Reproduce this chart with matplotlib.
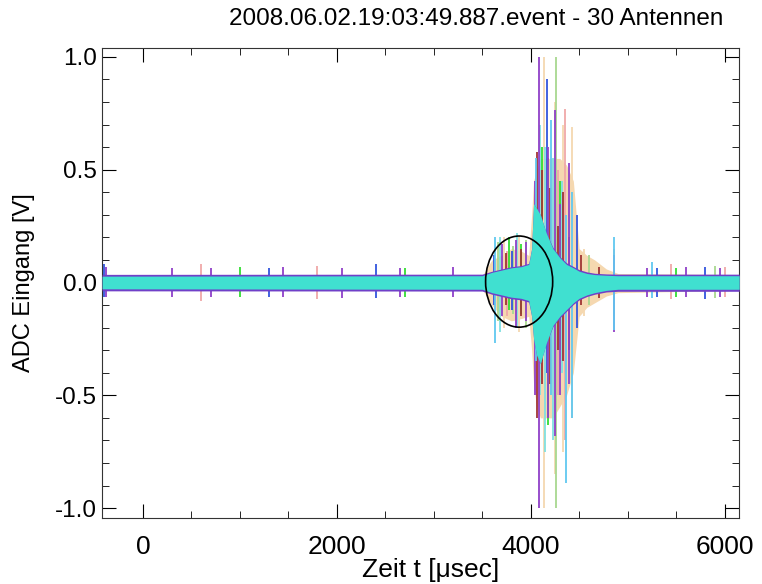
import numpy as np
import matplotlib.pyplot as plt
from matplotlib.patches import Ellipse
from matplotlib.ticker import MultipleLocator

plt.rcParams['font.family'] = ['Liberation Sans', 'DejaVu Sans']

title = "2008.06.02.19:03:49.887.event - 30 Antennen"
xlab = "Zeit t [\u03bcsec]"
ylab = "ADC Eingang [V]"

# envelope of all antenna traces
t_env = [-420, 3500, 3600, 3700, 3800, 3900, 3980, 4010, 4030, 4060, 4100, 4160,
         4230, 4300, 4370, 4440, 4500, 4580, 4660, 4780, 4900, 6150]
cyan_hi = [0.028, 0.03, 0.045, 0.055, 0.065, 0.07, 0.08, 0.15, 0.35, 0.33, 0.3, 0.22,
           0.15, 0.11, 0.08, 0.065, 0.05, 0.04, 0.035, 0.032, 0.03, 0.03]
cyan_lo = [-0.028, -0.03, -0.045, -0.055, -0.065, -0.07, -0.08, -0.15, -0.25, -0.32, -0.36, -0.27,
           -0.19, -0.15, -0.12, -0.09, -0.07, -0.055, -0.045, -0.035, -0.03, -0.03]
purple_hi = [0.036, 0.037, 0.05, 0.06, 0.07, 0.075, 0.085, 0.15, 0.35, 0.33, 0.3, 0.22,
             0.155, 0.115, 0.087, 0.071, 0.057, 0.047, 0.041, 0.038, 0.037, 0.037]
purple_lo = [-0.037, -0.038, -0.052, -0.062, -0.072, -0.077, -0.087, -0.15, -0.25, -0.32, -0.36, -0.27,
             -0.195, -0.157, -0.127, -0.097, -0.077, -0.062, -0.052, -0.042, -0.039, -0.039]
wheat_hi = [0.03, 0.03, 0.1, 0.12, 0.15, 0.14, 0.12, 0.3, 0.45, 0.5, 0.55, 0.55,
            0.55, 0.55, 0.52, 0.45, 0.15, 0.12, 0.1, 0.06, 0.04, 0.035]
wheat_lo = [-0.03, -0.03, -0.1, -0.15, -0.17, -0.16, -0.15, -0.3, -0.45, -0.55, -0.6, -0.6,
            -0.6, -0.55, -0.5, -0.4, -0.15, -0.11, -0.09, -0.06, -0.045, -0.035]

# single spikes per antenna colour: time, lower, upper
spikes = {
    "#f5d8b0": ([3720, 3880, 4134, 4424, 4550, 4250, 4330],
                [-0.2, -0.22, -1.0, -0.6, -0.15, -0.85, -0.75],
                [0.2, 0.2, 1.0, 0.69, 0.15, 0.8, 0.7]),
    "#a8d890": ([3660, 3820, 4258, 4600, 5900, 3950],
                [-0.17, -0.14, -1.0, -0.1, -0.07, -0.2],
                [0.18, 0.16, 1.0, 0.12, 0.075, 0.19]),
    "#f0a8a8": ([600, 1800, 4351, 4860, 5450, 6000, 4280, 3760],
                [-0.08, -0.075, -0.7, -0.15, -0.075, -0.065, -0.5, -0.15],
                [0.08, 0.075, 0.77, 0.15, 0.08, 0.07, 0.5, 0.14]),
    "#80e0e0": ([4100, 4150, 4230, 4320, 3680, 3860],
                [-0.5, -0.75, -0.7, -0.4, -0.22, -0.2],
                [0.7, 0.6, 0.55, 0.45, 0.2, 0.22]),
    "#33dd33": ([1000, 2700, 3780, 3900, 4175, 4300, 5500, 4120],
                [-0.065, -0.065, -0.12, -0.14, -0.63, -0.3, -0.065, -0.35],
                [0.07, 0.065, 0.2, 0.17, 0.55, 0.45, 0.065, 0.6]),
    "#a03535": ([3750, 3900, 4115, 4330, 4520, 4700, 4070, 4200, 4280, 4400],
                [-0.1, -0.15, -0.45, -0.35, -0.1, -0.07, -0.6, -0.45, -0.3, -0.3],
                [0.13, 0.15, 0.5, 0.4, 0.12, 0.07, 0.58, 0.42, 0.25, 0.2]),
    "#3355dd": ([-400, 1300, 2400, 3620, 4165, 4480, 5300, 5800, 3810],
                [-0.065, -0.065, -0.07, -0.1, -0.4, -0.2, -0.065, -0.075, -0.12],
                [0.08, 0.065, 0.08, 0.12, 0.9, 0.3, 0.065, 0.07, 0.14]),
    "#9040c8": ([-380, 300, 700, 1450, 2050, 2650, 3200, 3700, 3850, 3950, 4090, 4250, 4400,
                 4860, 5200, 5600, 5950, 4040, 4180, 4300],
                [-0.065, -0.065, -0.065, -0.065, -0.07, -0.065, -0.065, -0.15, -0.2, -0.17, -1.0, -0.68, -0.45,
                 -0.22, -0.065, -0.065, -0.065, -0.5, -0.6, -0.5],
                [0.07, 0.065, 0.065, 0.07, 0.065, 0.065, 0.07, 0.17, 0.19, 0.18, 1.0, 0.765, 0.53,
                 0.12, 0.065, 0.07, 0.065, 0.45, 0.6, 0.35]),
    "#60c8f0": ([3630, 4060, 4207, 4362, 4424, 4860, 5250],
                [-0.27, -0.35, -0.5, -0.89, -0.6, -0.21, -0.07],
                [0.2, 0.55, 0.72, 0.3, 0.4, 0.2, 0.09]),
}

fig = plt.figure(figsize=(7.62, 5.84), dpi=100)
ax = fig.add_axes([0.134, 0.113, 0.836, 0.805])

ax.fill_between(t_env, wheat_lo, wheat_hi, color="#f5d8b0", lw=0, zorder=1)
for col, (t, lo, hi) in spikes.items():
    ax.vlines(t, lo, hi, color=col, lw=1.3, zorder=2)
ax.fill_between(t_env, purple_lo, purple_hi, color="#7040c8", lw=0, zorder=3)
ax.fill_between(t_env, cyan_lo, cyan_hi, color="#40e0d0", lw=0, zorder=4)

ax.add_patch(Ellipse((3881, 0.004), 692, 0.404, fill=False, ec="black", lw=1.2, zorder=5))

ax.set_xlim(-420, 6150)
ax.set_ylim(-1.044, 1.04)
ax.xaxis.set_major_locator(MultipleLocator(2000))
ax.xaxis.set_minor_locator(MultipleLocator(500))
ax.yaxis.set_major_locator(MultipleLocator(0.5))
ax.yaxis.set_minor_locator(MultipleLocator(0.1))
ax.yaxis.set_major_formatter(lambda v, p: "%.1f" % v)
ax.tick_params(which="both", direction="in", top=True, right=True)
ax.tick_params(axis="x", labelsize=19, pad=12)
ax.tick_params(axis="y", labelsize=17.5, pad=4)
ax.tick_params(which="major", length=10)
ax.tick_params(which="minor", length=5)
for s in ax.spines.values():
    s.set_color("#333333")

ax.set_xlabel(xlab, fontsize=19)
ax.xaxis.set_label_coords(0.515, -0.085)
ax.set_ylabel(ylab, fontsize=17)
ax.yaxis.set_label_coords(-0.105, 0.5)
fig.text(0.625, 0.968, title, fontsize=17.5, ha="center", va="center")

fig.savefig("out.png", dpi=100)
